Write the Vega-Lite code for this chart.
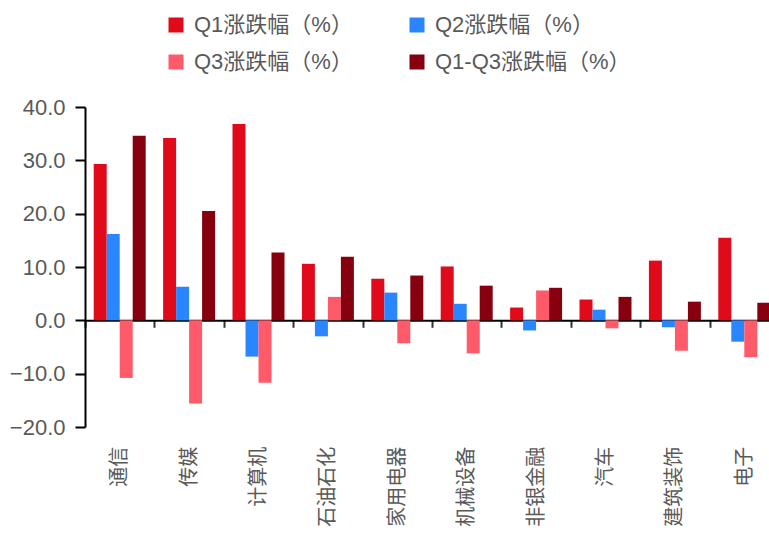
{
  "$schema": "https://vega.github.io/schema/vega-lite/v6.json",
  "width": 694,
  "height": 320,
  "autosize": {"type": "none"},
  "padding": {"left": 85, "top": 107, "right": 0, "bottom": 108},
  "background": "white",
  "data": {
    "values": [
      {"industry": "通信", "series": "Q1涨跌幅（%）", "value": 29.3},
      {"industry": "通信", "series": "Q2涨跌幅（%）", "value": 16.2},
      {"industry": "通信", "series": "Q3涨跌幅（%）", "value": -10.8},
      {"industry": "通信", "series": "Q1-Q3涨跌幅（%）", "value": 34.6},
      {"industry": "传媒", "series": "Q1涨跌幅（%）", "value": 34.2},
      {"industry": "传媒", "series": "Q2涨跌幅（%）", "value": 6.3},
      {"industry": "传媒", "series": "Q3涨跌幅（%）", "value": -15.6},
      {"industry": "传媒", "series": "Q1-Q3涨跌幅（%）", "value": 20.5},
      {"industry": "计算机", "series": "Q1涨跌幅（%）", "value": 36.8},
      {"industry": "计算机", "series": "Q2涨跌幅（%）", "value": -6.8},
      {"industry": "计算机", "series": "Q3涨跌幅（%）", "value": -11.7},
      {"industry": "计算机", "series": "Q1-Q3涨跌幅（%）", "value": 12.7},
      {"industry": "石油石化", "series": "Q1涨跌幅（%）", "value": 10.6},
      {"industry": "石油石化", "series": "Q2涨跌幅（%）", "value": -3.0},
      {"industry": "石油石化", "series": "Q3涨跌幅（%）", "value": 4.4},
      {"industry": "石油石化", "series": "Q1-Q3涨跌幅（%）", "value": 11.9},
      {"industry": "家用电器", "series": "Q1涨跌幅（%）", "value": 7.8},
      {"industry": "家用电器", "series": "Q2涨跌幅（%）", "value": 5.2},
      {"industry": "家用电器", "series": "Q3涨跌幅（%）", "value": -4.3},
      {"industry": "家用电器", "series": "Q1-Q3涨跌幅（%）", "value": 8.4},
      {"industry": "机械设备", "series": "Q1涨跌幅（%）", "value": 10.1},
      {"industry": "机械设备", "series": "Q2涨跌幅（%）", "value": 3.1},
      {"industry": "机械设备", "series": "Q3涨跌幅（%）", "value": -6.2},
      {"industry": "机械设备", "series": "Q1-Q3涨跌幅（%）", "value": 6.5},
      {"industry": "非银金融", "series": "Q1涨跌幅（%）", "value": 2.4},
      {"industry": "非银金融", "series": "Q2涨跌幅（%）", "value": -1.9},
      {"industry": "非银金融", "series": "Q3涨跌幅（%）", "value": 5.6},
      {"industry": "非银金融", "series": "Q1-Q3涨跌幅（%）", "value": 6.1},
      {"industry": "汽车", "series": "Q1涨跌幅（%）", "value": 3.9},
      {"industry": "汽车", "series": "Q2涨跌幅（%）", "value": 2.0},
      {"industry": "汽车", "series": "Q3涨跌幅（%）", "value": -1.5},
      {"industry": "汽车", "series": "Q1-Q3涨跌幅（%）", "value": 4.4},
      {"industry": "建筑装饰", "series": "Q1涨跌幅（%）", "value": 11.2},
      {"industry": "建筑装饰", "series": "Q2涨跌幅（%）", "value": -1.3},
      {"industry": "建筑装饰", "series": "Q3涨跌幅（%）", "value": -5.7},
      {"industry": "建筑装饰", "series": "Q1-Q3涨跌幅（%）", "value": 3.5},
      {"industry": "电子", "series": "Q1涨跌幅（%）", "value": 15.5},
      {"industry": "电子", "series": "Q2涨跌幅（%）", "value": -4.0},
      {"industry": "电子", "series": "Q3涨跌幅（%）", "value": -6.9},
      {"industry": "电子", "series": "Q1-Q3涨跌幅（%）", "value": 3.3}
    ]
  },
  "mark": {"type": "bar"},
  "encoding": {
    "x": {
      "field": "industry",
      "type": "nominal",
      "sort": ["通信", "传媒", "计算机", "石油石化", "家用电器", "机械设备", "非银金融", "汽车", "建筑装饰", "电子"],
      "scale": {"paddingInner": 0, "paddingOuter": 0},
      "axis": {
        "title": null,
        "offset": -106.7,
        "domainColor": "#000000",
        "domainWidth": 2,
        "tickBand": "extent",
        "tickColor": "#333333",
        "tickSize": 7,
        "tickWidth": 2,
        "labelAngle": -90,
        "labelPadding": 119,
        "labelFontSize": 20,
        "labelColor": "#595959",
        "labelFont": "Noto Sans CJK SC",
        "grid": false
      }
    },
    "xOffset": {
      "field": "series",
      "sort": ["Q1涨跌幅（%）", "Q2涨跌幅（%）", "Q3涨跌幅（%）", "Q1-Q3涨跌幅（%）"],
      "scale": {"paddingInner": 0, "paddingOuter": 0.67}
    },
    "y": {
      "field": "value",
      "type": "quantitative",
      "scale": {"domain": [-20, 40], "nice": false},
      "axis": {
        "title": null,
        "values": [-20, -10, 0, 10, 20, 30, 40],
        "format": ".1f",
        "domainColor": "#000000",
        "domainWidth": 2,
        "tickColor": "#000000",
        "tickSize": 10,
        "tickWidth": 2,
        "labelPadding": 10,
        "labelFontSize": 22,
        "labelColor": "#595959",
        "labelFont": "Liberation Sans",
        "grid": false
      }
    },
    "color": {
      "field": "series",
      "type": "nominal",
      "sort": ["Q1涨跌幅（%）", "Q2涨跌幅（%）", "Q3涨跌幅（%）", "Q1-Q3涨跌幅（%）"],
      "scale": {
        "domain": ["Q1涨跌幅（%）", "Q2涨跌幅（%）", "Q3涨跌幅（%）", "Q1-Q3涨跌幅（%）"],
        "range": ["#E00A1A", "#2986FF", "#FF5A6A", "#87000F"]
      },
      "legend": {
        "title": null,
        "orient": "none",
        "direction": "horizontal",
        "legendX": 80,
        "legendY": -93,
        "columns": 2,
        "columnPadding": 53,
        "rowPadding": 15,
        "labelFontSize": 22,
        "labelColor": "#595959",
        "labelFont": "Liberation Sans, Noto Sans CJK SC",
        "labelLimit": 400,
        "labelOffset": 7,
        "symbolType": "square",
        "symbolSize": 225,
        "symbolStrokeWidth": 0,
        "symbolOpacity": 1
      }
    }
  },
  "config": {"view": {"stroke": null}}
}
